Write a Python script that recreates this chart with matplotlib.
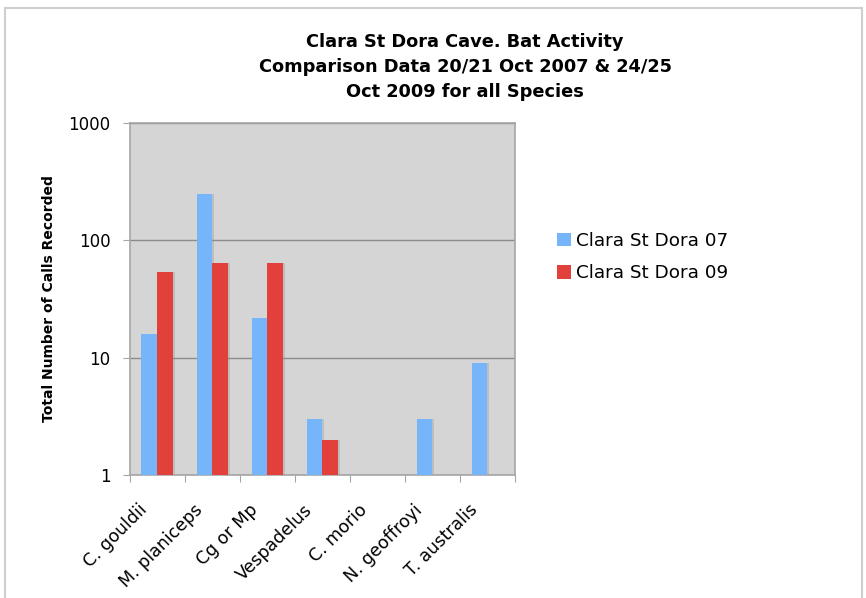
import matplotlib.pyplot as plt
import matplotlib.patches as mpatches
import matplotlib.transforms as mtransforms
import numpy as np

species = ['C. gouldii', 'M. planiceps', 'Cg or Mp', 'Vespadelus',
           'C. morio', 'N. geoffroyi', 'T. australis']
calls_07 = [16, 250, 22, 3, 0, 3, 9]
calls_09 = [54, 64, 64, 2, 0, 0, 0]

blue = '#77b5fb'
red = '#e2403b'

fig = plt.figure(figsize=(8.66, 5.98), dpi=100)
fig.patch.set_facecolor('white')
# outer chart frame
fig.add_artist(mpatches.Rectangle((5 / 866, -0.01), 857 / 866, 0.997,
                                  transform=fig.transFigure, fill=False,
                                  edgecolor='#cfcfcf', linewidth=1.5))

ax = fig.add_axes([0.150, 0.2057, 0.445, 0.5885])
ax.set_facecolor('#d5d5d5')
ax.set_yscale('log')
ax.set_ylim(1, 1000)
ax.set_xlim(0, len(species))

x = np.arange(len(species))
w = 0.285
off = 0.21
v07 = np.array(calls_07, dtype=float)
v09 = np.array(calls_09, dtype=float)
m07 = v07 > 0
m09 = v09 > 0

# slight drop shadow on the right of each bar
ax.bar(x[m07] + off + 0.035, v07[m07] - 1, w, bottom=1, align='edge',
       color='#8a8a8a', alpha=0.3, zorder=2)
ax.bar(x[m09] + off + w + 0.035, v09[m09] - 1, w, bottom=1, align='edge',
       color='#8a8a8a', alpha=0.3, zorder=2)
ax.bar(x[m07] + off, v07[m07] - 1, w, bottom=1, align='edge',
       color=blue, zorder=3, label='Clara St Dora 07')
ax.bar(x[m09] + off + w, v09[m09] - 1, w, bottom=1, align='edge',
       color=red, zorder=3, label='Clara St Dora 09')

ax.yaxis.grid(True, color='#8c8c8c', linewidth=1)
ax.set_axisbelow(True)
for s in ax.spines.values():
    s.set_color('#a5a5a5')
    s.set_linewidth(1.2)

ax.set_yticks([1, 10, 100, 1000])
ax.set_yticklabels(['1', '10', '100', '1000'], fontsize=12)
ax.minorticks_off()
ax.tick_params(axis='y', length=5, color='#a5a5a5', pad=9)

ax.set_xticks(np.arange(len(species) + 1))
ax.set_xticklabels([])
ax.set_xticks(x + 0.5, minor=True)
ax.set_xticklabels(species, minor=True, rotation=45, ha='right',
                   rotation_mode='anchor', fontsize=12.5)
ax.tick_params(axis='x', which='major', length=5, color='#a5a5a5')
ax.tick_params(axis='x', which='minor', length=0, pad=10)
shift = mtransforms.ScaledTranslation(-19 / 100, -12 / 100, fig.dpi_scale_trans)
for lab in ax.get_xticklabels(minor=True):
    lab.set_transform(lab.get_transform() + shift)

ax.set_ylabel('Total Number of Calls Recorded', fontsize=10,
              fontweight='bold', labelpad=9)

fig.text(0.537, 0.945, 'Clara St Dora Cave. Bat Activity\n'
         'Comparison Data 20/21 Oct 2007 & 24/25\n'
         'Oct 2009 for all Species', ha='center', va='top',
         fontsize=12.8, fontweight='bold', linespacing=1.5)

fig.legend(loc='upper left', bbox_to_anchor=(0.624, 0.64), frameon=False,
           fontsize=13.2, handlelength=0.75, handleheight=0.75,
           handletextpad=0.3, labelspacing=0.8)

fig.savefig('out.png', dpi=100)
